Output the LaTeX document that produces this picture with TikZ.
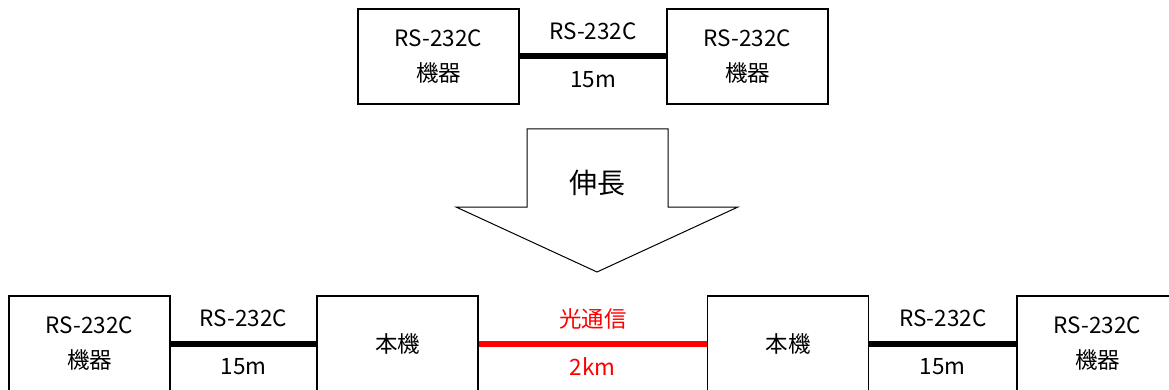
\documentclass[tikz,border=0pt]{standalone}
\usepackage{fontspec}
\setmainfont{Noto Sans CJK JP}
\begin{document}
\begin{tikzpicture}[x=1pt, y=-1pt,
    box/.style={draw, line width=1.3pt, minimum width=161pt, minimum height=95pt,
        inner sep=0pt, align=center, font=\fontsize{22.5}{35}\selectfont},
    cable/.style={line width=6pt},
    lbl/.style={font=\fontsize{22.5}{25}\selectfont, inner sep=0pt}]

    \useasboundingbox (0,0) rectangle (1169,390);
    \clip (0,0) rectangle (1169,390);

    % before
    \node[box] (devA) at (438.5,56.5) {RS-232C\\機器};
    \node[box] (devB) at (747.5,56.5) {RS-232C\\機器};
    \draw[cable] (devA) -- (devB)
        node[lbl, midway, yshift=25pt] (cabA) {RS-232C}
        node[lbl, midway, yshift=-23pt] (lenA) {15m};

    % arrow
    \draw[line width=1pt, line join=miter] (527,129) -- (668,129) -- (668,207) -- (738,207)
        -- (597,272) -- (456,207) -- (527,207) -- cycle;
    \node[font=\fontsize{28}{30}\selectfont] (ext) at (597,183) {伸長};

    % after
    \node[box] (devL) at (89.5,343.5) {RS-232C\\機器};
    \node[box] (unitL) at (397.5,343.5) {本機};
    \node[box] (unitR) at (788,343.5) {本機};
    \node[box] (devR) at (1097.5,343.5) {RS-232C\\機器};

    \draw[cable] (devL) -- (unitL)
        node[lbl, midway, yshift=25pt] (cabL) {RS-232C}
        node[lbl, midway, yshift=-23pt] (lenL) {15m};
    \draw[cable, red] (unitL) -- (unitR)
        node[lbl, midway, yshift=25pt] (opt) {光通信}
        node[lbl, midway, yshift=-23pt] (lenO) {2km};
    \draw[cable] (unitR) -- (devR)
        node[lbl, midway, yshift=25pt] (cabR) {RS-232C}
        node[lbl, midway, yshift=-23pt] (lenR) {15m};

\end{tikzpicture}
\end{document}
